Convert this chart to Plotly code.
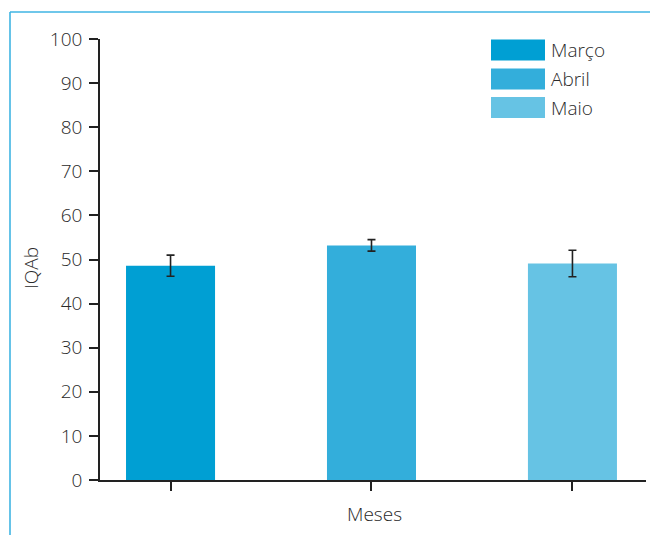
import plotly.graph_objects as go

categories = ["Março", "Abril", "Maio"]
values = [48.6, 53.2, 49.1]
errors = [2.4, 1.3, 3.0]
colors = ["#009fd3", "#33aedb", "#66c3e4"]
y_ticks = [0, 10, 20, 30, 40, 50, 60, 70, 80, 90, 100]

FONT = "Open Sans"
TXT = "#2a2a2a"

# page body has an 8px margin; work in page coordinates and shift
OFF = 8
W, H = 658, 535
L, R, T, B = 100 - OFF, 12 + OFF, 39 - OFF, 55 + OFF
pw, ph = W - L - R, H - T - B


def px(x):
    return (x - OFF - L) / pw


def py(y):
    return (H - B - (y - OFF)) / ph


fig = go.Figure()
for i, (c, v, e, col) in enumerate(zip(categories, values, errors, colors)):
    fig.add_trace(go.Bar(
        x=[i], y=[v], name=c, width=0.443,
        marker=dict(color=col, line=dict(width=0)),
        error_y=dict(type="data", array=[e], visible=True, color="#222222",
                     thickness=1.6, width=4),
        showlegend=False,
    ))

shapes = []
annotations = []
frame_col = "#3fb4e3"
shapes.append(dict(type="line", xref="paper", yref="paper", x0=px(10), x1=px(10),
                   y0=py(12), y1=py(545), line=dict(color=frame_col, width=1.6)))
shapes.append(dict(type="line", xref="paper", yref="paper", x0=px(10), x1=px(670),
                   y0=py(12), y1=py(12), line=dict(color=frame_col, width=1.6)))

row_centers = [50, 79, 107.5]
for c, col, yc in zip(categories, colors, row_centers):
    shapes.append(dict(type="rect", xref="paper", yref="paper",
                       x0=px(491), x1=px(545), y0=py(yc - 10.5), y1=py(yc + 10.5),
                       fillcolor=col, line=dict(width=0)))
    annotations.append(dict(text=c, xref="paper", yref="paper", x=px(549), y=py(yc),
                            xanchor="left", yanchor="middle", showarrow=False,
                            font=dict(family=FONT, size=19, color=TXT, weight=300)))

annotations.append(dict(text="Meses", xref="paper", yref="paper", x=px(374), y=py(514),
                        xanchor="center", yanchor="middle", showarrow=False,
                        font=dict(family=FONT, size=19, color=TXT, weight=300)))
annotations.append(dict(text="IQAb", xref="paper", yref="paper", x=px(31), y=py(268),
                        xanchor="center", yanchor="middle", showarrow=False, textangle=-90,
                        font=dict(family=FONT, size=19, color=TXT, weight=300)))

fig.update_layout(
    width=W, height=H,
    margin=dict(l=L, r=R, t=T, b=B),
    plot_bgcolor="white", paper_bgcolor="white",
    shapes=shapes, annotations=annotations,
    showlegend=False,
    xaxis=dict(
        range=[-0.351, 2.366], tickvals=[0, 1, 2], ticktext=["", "", ""],
        showgrid=False, zeroline=False, showline=True, linecolor="#222222", linewidth=1.6,
        ticks="outside", ticklen=9, tickwidth=1.6, tickcolor="#222222", fixedrange=True,
    ),
    yaxis=dict(
        range=[0, 100], tickvals=y_ticks, ticktext=[str(t) for t in y_ticks],
        showgrid=False, zeroline=False, showline=True, linecolor="#222222", linewidth=1.6,
        ticks="outside", ticklen=9, tickwidth=1.6, tickcolor="#222222",
        tickfont=dict(family=FONT, size=19, color=TXT, weight=300), ticklabelstandoff=3,
    ),
)

fig.write_html("out.html")
